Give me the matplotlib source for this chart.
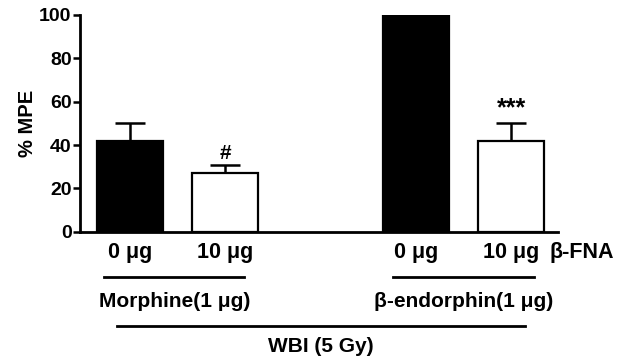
import matplotlib
matplotlib.use("Agg")
import matplotlib.pyplot as plt

# data
positions = [0, 1, 3, 4]
dose_labels = ["0 \u03bcg", "10 \u03bcg", "0 \u03bcg", "10 \u03bcg"]
mpe_mean = [42, 27, 100, 42]
mpe_sem = [8, 4, 0, 8]
sig_marks = ["", "#", "", "***"]
group_names = ["Morphine(1 \u03bcg)", "\u03b2-endorphin(1 \u03bcg)"]
group_spans = [(-0.27, 1.20), (2.76, 4.24)]
treatment = "WBI (5 Gy)"
antagonist = "\u03b2-FNA"

plt.rcParams["font.family"] = ["Liberation Sans", "DejaVu Sans"]
plt.rcParams["font.weight"] = "bold"

fig = plt.figure(figsize=(6.29, 3.60), dpi=100)
ax = fig.add_axes([0.127, 0.356, 0.76, 0.603])

fills = ["black", "white", "black", "white"]
ax.bar(positions, mpe_mean, width=0.69, color=fills, edgecolor="black",
       linewidth=1.6, zorder=2)
ax.errorbar(positions, mpe_mean, yerr=[[0] * 4, mpe_sem], fmt="none",
            ecolor="black", elinewidth=1.8, capsize=11, capthick=1.8, zorder=1)

# significance marks: (size, offset above error bar)
mark_style = {"#": (15, 5), "***": (18, 7)}
for x, m, s, mark in zip(positions, mpe_mean, mpe_sem, sig_marks):
    if mark:
        size, off = mark_style[mark]
        ax.text(x, m + s + off, mark, ha="center", va="center",
                fontsize=size, fontweight="bold")

ax.set_xlim(-0.525, 4.49)
ax.set_ylim(0, 100)
ax.set_yticks([0, 20, 40, 60, 80, 100])
ax.tick_params(axis="y", labelsize=14, width=1.8, length=5, pad=1)
ax.set_xticks(positions)
ax.set_xticklabels(dose_labels, fontsize=15.5, fontweight="bold")
ax.tick_params(axis="x", length=0, pad=7)
ax.set_ylabel("% MPE", fontsize=14.5, fontweight="bold", labelpad=1.5)

for side in ["top", "right"]:
    ax.spines[side].set_visible(False)
for side in ["left", "bottom"]:
    ax.spines[side].set_linewidth(2)

# annotations beneath the axis
trans = ax.get_xaxis_transform()
ax.text(4.74, -0.097, antagonist, transform=trans, ha="center", va="center",
        fontsize=15.5, fontweight="bold")
for name, (x0, x1) in zip(group_names, group_spans):
    ax.plot([x0, x1], [-0.207, -0.207], transform=trans, color="black",
            linewidth=2, clip_on=False)
    ax.text((x0 + x1) / 2, -0.323, name, transform=trans, ha="center",
            va="center", fontsize=15, fontweight="bold")
ax.plot([-0.14, 4.14], [-0.433, -0.433], transform=trans, color="black",
        linewidth=2, clip_on=False)
ax.text(2.0, -0.53, treatment, transform=trans, ha="center", va="center",
        fontsize=15, fontweight="bold")

fig.savefig("out.png", dpi=100)
